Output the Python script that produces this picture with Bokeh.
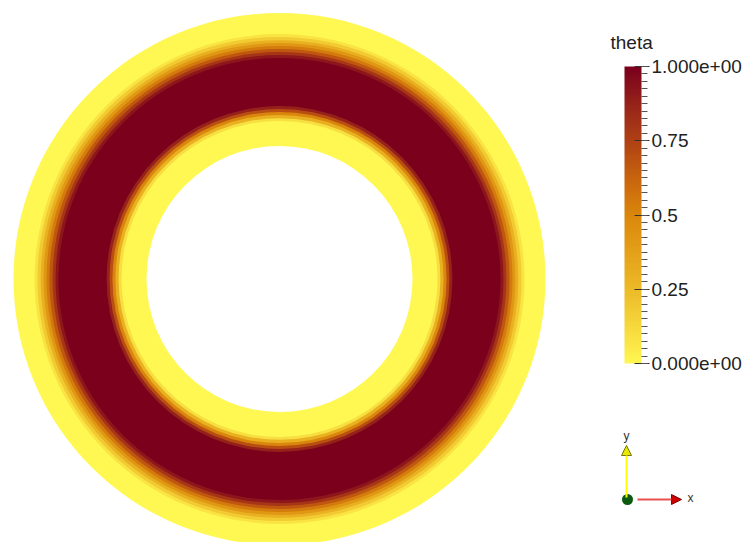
import numpy as np
from bokeh.plotting import figure
from bokeh.models import (Range1d, LinearColorMapper, ColorBar, FixedTicker, Label,
                          Arrow, NormalHead, ColumnDataSource)
from bokeh.transform import transform
from bokeh.embed import file_html
from bokeh.resources import INLINE

# ---- data: radial profile of theta across the annulus (outermost ring first) ----
ring_outer_radius = [1.000, 0.921, 0.910, 0.898, 0.887, 0.876, 0.865, 0.853, 0.842,
                     0.831, 0.650, 0.639, 0.628, 0.617, 0.605, 0.594]
ring_theta = [0.0, 0.08, 0.18, 0.30, 0.42, 0.54, 0.67, 0.80, 0.92,
              1.0, 0.88, 0.70, 0.50, 0.30, 0.10, 0.0]
hole_radius = 0.5
field_name = "theta"
cbar_ticks = [0.0, 0.25, 0.5, 0.75, 1.0]
cbar_labels = ["0.000e+00", "0.25", "0.5", "0.75", "1.000e+00"]
cbar_minor_ticks = [round(i * 0.025, 3) for i in range(41)]
axis_labels = ["x", "y"]

# ---- colormap (yellow -> orange -> dark red) ----
anchors = [(255, 247, 82), (246, 216, 60), (236, 186, 40), (228, 160, 25), (218, 135, 12),
           (200, 100, 14), (175, 65, 20), (150, 35, 26), (122, 0, 28)]
pos = np.linspace(0, 1, len(anchors))
palette = []
for t in np.linspace(0, 1, 256):
    rgb = [int(round(np.interp(t, pos, [a[k] for a in anchors]))) for k in range(3)]
    palette.append("#%02x%02x%02x" % tuple(rgb))
mapper = LinearColorMapper(palette=palette, low=0.0, high=1.0)

# ---- figure ----
W, H = 745, 542
S = 266.0
CX, CY = 279.0, 278.5
p = figure(width=W, height=H, output_backend="svg", toolbar_location=None,
           x_range=Range1d(-CX / S, (W - CX) / S), y_range=Range1d(-(H - CY) / S, CY / S),
           x_axis_location=None, y_axis_location=None, min_border=0)
p.grid.visible = False
p.outline_line_color = None
p.background_fill_color = "white"


def dx(px):
    return (px - CX) / S


def dy(py):
    return (CY - py) / S


src = ColumnDataSource(dict(x=[0.0] * len(ring_outer_radius), y=[0.0] * len(ring_outer_radius),
                            r=ring_outer_radius, theta=ring_theta))
p.circle(x="x", y="y", radius="r", source=src, fill_color=transform("theta", mapper),
         line_color=None)
p.circle(x=[0.0], y=[0.0], radius=[hole_radius], fill_color="white", line_color=None)

# ---- color bar ----
cb = ColorBar(color_mapper=mapper,
              ticker=FixedTicker(ticks=cbar_ticks, minor_ticks=cbar_minor_ticks),
              major_label_overrides={t: l for t, l in zip(cbar_ticks, cbar_labels)},
              width=17, height=297, location=(624, 179), padding=0, margin=0,
              background_fill_alpha=0, border_line_color=None, bar_line_color=None,
              major_tick_in=7, major_tick_out=8, minor_tick_in=0, minor_tick_out=6,
              major_tick_line_color="#333333", minor_tick_line_color="#555555",
              label_standoff=2, major_label_text_font="Liberation Sans",
              major_label_text_font_size="19px", major_label_text_color="#222222")
p.add_layout(cb, "center")
p.add_layout(Label(x=dx(610), y=dy(42), text=field_name, text_align="left",
                   text_baseline="middle", text_font="Liberation Sans",
                   text_font_size="19px", text_color="#222222"))

# ---- axes triad ----
p.add_layout(Arrow(x_start=dx(626), y_start=dy(497), x_end=dx(626), y_end=dy(445),
                   line_color="#ffff00", line_width=2,
                   end=NormalHead(size=10, fill_color="#e8e800", line_color="#777700",
                                  line_width=1)))
p.add_layout(Arrow(x_start=dx(637), y_start=dy(499), x_end=dx(681), y_end=dy(499),
                   line_color="#e85050", line_width=2,
                   end=NormalHead(size=10, fill_color="#cc0000", line_color="#880000",
                                  line_width=1)))
p.scatter(x=[dx(627)], y=[dy(499)], size=11, fill_color="#0b5a12", line_color=None)
p.add_layout(Label(x=dx(690), y=dy(497), text=axis_labels[0], text_align="center",
                   text_baseline="middle", text_font="Liberation Sans",
                   text_font_size="12px", text_color="#333333"))
p.add_layout(Label(x=dx(626), y=dy(435), text=axis_labels[1], text_align="center",
                   text_baseline="middle", text_font="Liberation Sans",
                   text_font_size="12px", text_color="#333333"))

open("out.html", "w").write(file_html(p, INLINE))
